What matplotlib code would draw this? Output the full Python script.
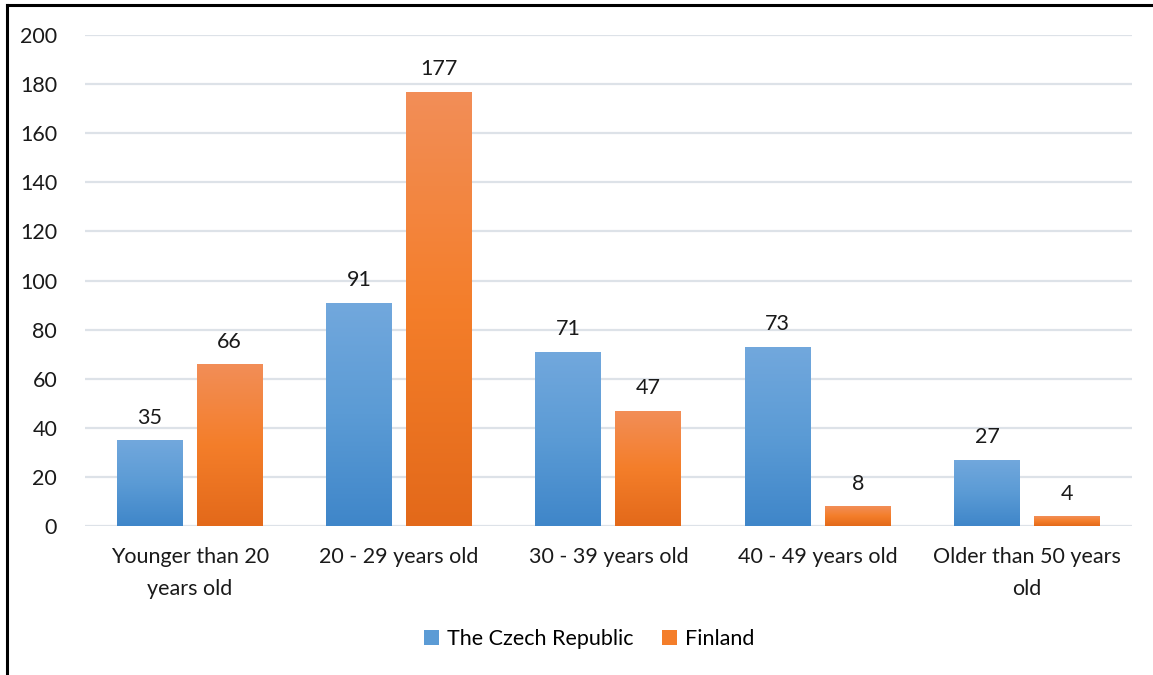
import numpy as np
import matplotlib
matplotlib.use("Agg")
import matplotlib.pyplot as plt
from matplotlib.colors import LinearSegmentedColormap
from matplotlib.lines import Line2D
from matplotlib.patches import Patch

plt.rcParams['font.family'] = ['Lato', 'DejaVu Sans']

categories = ["Younger than 20\nyears old", "20 - 29 years old", "30 - 39 years old",
              "40 - 49 years old", "Older than 50 years\nold"]
czech = [35, 91, 71, 73, 27]
finland = [66, 177, 47, 8, 4]
series_names = ["The Czech Republic", "Finland"]

blue_grad = LinearSegmentedColormap.from_list("b", ["#3f86c9", "#5b9bd5", "#72a8dd"])
orange_grad = LinearSegmentedColormap.from_list("o", ["#e3691a", "#f47e2a", "#f28e58"])

fig = plt.figure(figsize=(11.53, 6.75), dpi=100)
ax = fig.add_axes([0.0737, 0.2207, 0.908, 0.7273])

x = np.arange(len(categories))
w = 0.315
gap = 0.067
grad = np.linspace(0, 1, 256).reshape(-1, 1)
fs = 15.5


def gradient_bars(xs, vals, cmap):
    bars = ax.bar(xs, vals, w, color='none', zorder=3)
    for b, v in zip(bars, vals):
        x0 = b.get_x()
        im = ax.imshow(grad, cmap=cmap, aspect='auto', origin='lower',
                       extent=[x0, x0 + w, 0, v], zorder=3)
        im.set_clip_path(b)
        ax.annotate(str(v), (x0 + w / 2, v), xytext=(0, 9), textcoords='offset points',
                    ha='center', va='bottom', fontsize=fs, color='#1a1a1a')
    return bars


gradient_bars(x - w / 2 - gap / 2, czech, blue_grad)
gradient_bars(x + w / 2 + gap / 2, finland, orange_grad)

ax.set_xlim(-0.5, len(categories) - 0.5)
ax.set_ylim(0, 200)
ax.set_yticks(range(0, 201, 20))
ax.set_xticks(x)
ax.set_xticklabels(categories, fontsize=fs, color='#1a1a1a', linespacing=1.75)
ax.tick_params(axis='y', labelsize=fs, labelcolor='#1a1a1a', length=0, pad=20)
ax.tick_params(axis='x', length=0, pad=15)
ax.grid(axis='y', color='#dde2e8', linewidth=1.6, zorder=0)
ax.set_axisbelow(True)
for s in ax.spines.values():
    s.set_visible(False)

handles = [Patch(facecolor='#5b9bd5'), Patch(facecolor='#f47e2a')]
fig.legend(handles, series_names, loc='center', bbox_to_anchor=(0.511, 0.053), ncol=2,
           frameon=False, fontsize=fs, handlelength=0.7, handleheight=0.7,
           handletextpad=0.4, columnspacing=1.3)

# outer frame (left and top edges)
fig.add_artist(Line2D([0.0065, 0.0065], [0, 0.992], color='black', linewidth=2.2,
                      transform=fig.transFigure))
fig.add_artist(Line2D([0.0065, 1], [0.992, 0.992], color='black', linewidth=2.2,
                      transform=fig.transFigure))

fig.savefig("out.png", dpi=100)
